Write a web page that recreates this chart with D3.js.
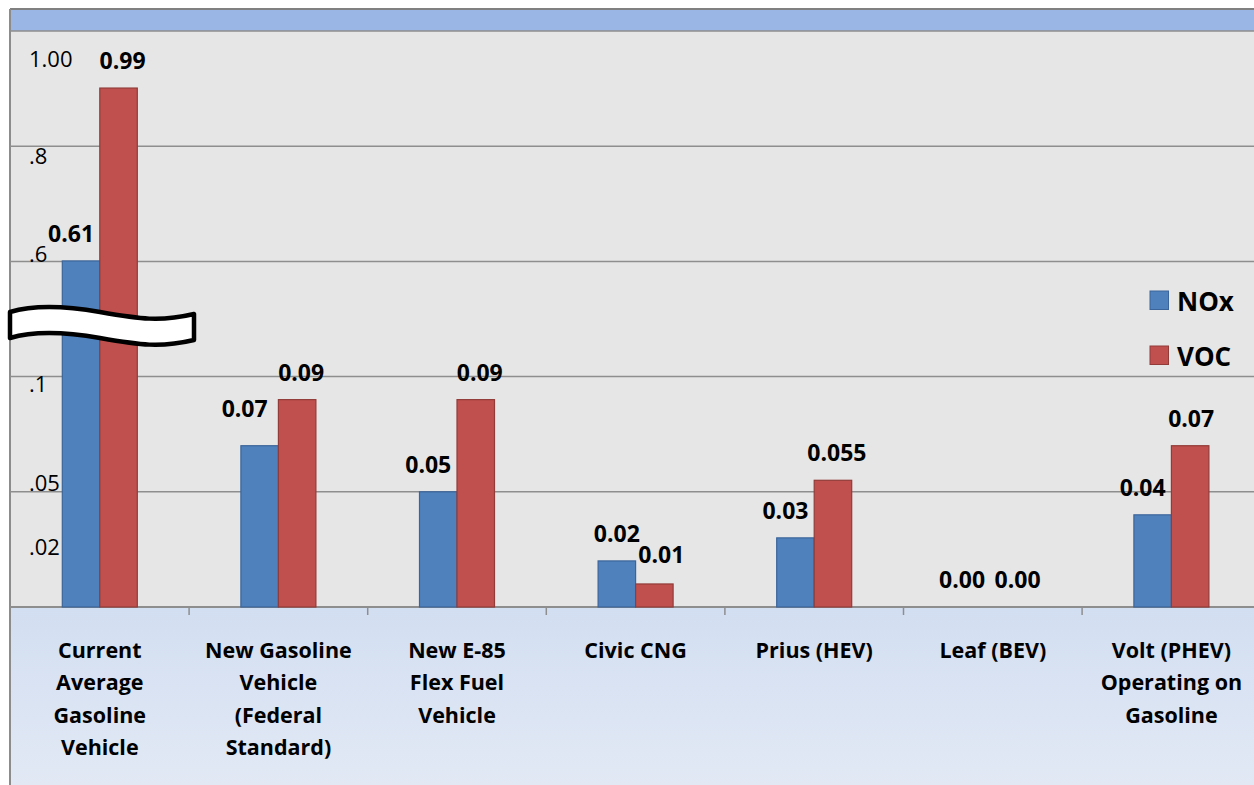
<!DOCTYPE html>
<html>
<head>
<meta charset="utf-8">
<script src="https://cdn.jsdelivr.net/npm/d3@7"></script>
<style>
  body { margin: 0; background: #fff; }
  svg { display: block; font-family: "Open Sans", Lato, sans-serif; }
</style>
</head>
<body>
<div id="chart"></div>
<script>
// Data
const categories = [
  ["Current", "Average", "Gasoline", "Vehicle"],
  ["New Gasoline", "Vehicle", "(Federal", "Standard)"],
  ["New E-85", "Flex Fuel", "Vehicle"],
  ["Civic CNG"],
  ["Prius (HEV)"],
  ["Leaf (BEV)"],
  ["Volt (PHEV)", "Operating on", "Gasoline"]
];
const seriesNames = ["NOx", "VOC"];
const noxValues = [0.61, 0.07, 0.05, 0.02, 0.03, 0.00, 0.04];
const vocValues = [0.99, 0.09, 0.09, 0.01, 0.055, 0.00, 0.07];
const valueLabels = [
  ["0.61", "0.99"], ["0.07", "0.09"], ["0.05", "0.09"], ["0.02", "0.01"],
  ["0.03", "0.055"], ["0.00", "0.00"], ["0.04", "0.07"]
];
// broken axis: tick labels as printed on the chart
const tickLabels = ["1.00", ".8", ".6", ".1", ".05", ".02"];

// Dimensions
const width = 1254;
const height = 785;
const frameLeft = 10;
const frameTop = 9;
const plotTop = 31;
const plotBottom = 607;
const band = (plotBottom - plotTop) / 5;
const catWidth = 178.6;

const colors = { NOx: "#4F81BD", VOC: "#C0504D" };
const strokes = { NOx: "#3B649A", VOC: "#923B39" };

const keys = categories.map((c, i) => i);
const rows = keys.map(i => ({ i, NOx: noxValues[i], VOC: vocValues[i] }));

const x = d3.scaleBand()
  .domain(keys)
  .range([frameLeft + 0.5, frameLeft + 0.5 + catWidth * keys.length]);

const xInner = d3.scaleBand()
  .domain(seriesNames)
  .range([0, 75]);

// piecewise scale: lower part is linear, upper part above the break is compressed
const y = d3.scaleLinear()
  .domain([0, 0.1, 0.6, 1.0])
  .range([plotBottom, plotBottom - 2 * band, 265.5, 83.5]);

const svg = d3.select("#chart")
  .append("svg")
    .attr("width", width)
    .attr("height", height)
    .attr("viewBox", `0 0 ${width} ${height}`);

const defs = svg.append("defs");
const grad = defs.append("linearGradient")
  .attr("id", "catBg")
  .attr("x1", 0).attr("y1", 0).attr("x2", 0).attr("y2", 1);
grad.append("stop").attr("offset", "0%").attr("stop-color", "#D2DEF1");
grad.append("stop").attr("offset", "100%").attr("stop-color", "#E2E9F5");

// header band
svg.append("rect")
  .attr("x", frameLeft)
  .attr("y", frameTop)
  .attr("width", width - frameLeft)
  .attr("height", plotTop - frameTop)
  .attr("fill", "#9AB6E4");

// plot background
svg.append("rect")
  .attr("x", frameLeft)
  .attr("y", plotTop)
  .attr("width", width - frameLeft)
  .attr("height", plotBottom - plotTop)
  .attr("fill", "#E6E6E6");

// category area
svg.append("rect")
  .attr("x", frameLeft)
  .attr("y", plotBottom)
  .attr("width", width - frameLeft)
  .attr("height", height - plotBottom)
  .attr("fill", "url(#catBg)");

// frame lines
svg.append("line")
  .attr("x1", frameLeft).attr("x2", width)
  .attr("y1", frameTop).attr("y2", frameTop)
  .attr("stroke", "#808080").attr("stroke-width", 2);

svg.append("line")
  .attr("x1", frameLeft).attr("x2", frameLeft)
  .attr("y1", frameTop).attr("y2", height)
  .attr("stroke", "#8C8C8C").attr("stroke-width", 2);

// gridlines
svg.selectAll(".grid")
  .data(d3.range(6))
  .join("line")
    .attr("class", "grid")
    .attr("x1", frameLeft).attr("x2", width)
    .attr("y1", i => plotBottom - i * band)
    .attr("y2", i => plotBottom - i * band)
    .attr("stroke", "#8E8E8E")
    .attr("stroke-width", i => i === 0 ? 2 : 1.5);

// category ticks
svg.selectAll(".cat-tick")
  .data(keys.slice(1))
  .join("line")
    .attr("class", "cat-tick")
    .attr("x1", d => x(d)).attr("x2", d => x(d))
    .attr("y1", plotBottom).attr("y2", plotBottom + 8)
    .attr("stroke", "#8E8E8E")
    .attr("stroke-width", 1.5);

// tick labels (placed like the text boxes on the original)
const tickLabelY = [67, 164, 262, 392, 491, 555];
svg.selectAll(".tick-label")
  .data(tickLabels)
  .join("text")
    .attr("class", "tick-label")
    .attr("x", 29)
    .attr("y", (d, i) => tickLabelY[i])
    .style("font-size", "22px")
    .attr("fill", "#000")
    .text(d => d);

// bars
const groups = svg.selectAll(".group")
  .data(rows)
  .join("g")
    .attr("class", "group")
    .attr("transform", d => `translate(${x(d.i) + (x.bandwidth() - 75) / 2}, 0)`);

groups.selectAll("rect")
  .data(d => seriesNames.map(k => ({ key: k, value: d[k], i: d.i })))
  .join("rect")
    .attr("x", d => xInner(d.key))
    .attr("y", d => y(d.value))
    .attr("width", xInner.bandwidth())
    .attr("height", d => plotBottom - y(d.value))
    .attr("fill", d => colors[d.key])
    .attr("stroke", d => strokes[d.key])
    .attr("stroke-width", 1.2);

// value labels, nudged like the hand-placed labels of the original
const labelDx = { NOx: -10, VOC: 4 };
const labelFix = { "1|NOx": [-15, -10], "3|NOx": [0, 0], "3|VOC": [7, -2], "6|VOC": [1, 0], "5|NOx": [-12, 0], "5|VOC": [6, 0] };

groups.selectAll(".value-label")
  .data(d => seriesNames.map((k, j) => ({ key: k, value: d[k], i: d.i, label: valueLabels[d.i][j] })))
  .join("text")
    .attr("class", "value-label")
    .attr("text-anchor", "middle")
    .attr("x", d => {
      const fix = labelFix[`${d.i}|${d.key}`];
      return xInner(d.key) + xInner.bandwidth() / 2 + (fix ? fix[0] : labelDx[d.key]);
    })
    .attr("y", d => {
      const fix = labelFix[`${d.i}|${d.key}`];
      return y(d.value) - 19 + (fix ? fix[1] : 0);
    })
    .style("font-size", "23px")
    .style("font-weight", 700)
    .text(d => d.label);

// axis break symbol
svg.append("path")
  .attr("d", "M10,312 C30,306 60,305 100,312 C140,319 160,322 194,314 L194,340 C160,348 140,345 100,338 C60,331 30,332 10,338 Z")
  .attr("fill", "#fff")
  .attr("stroke", "#000")
  .attr("stroke-width", 4.5)
  .attr("stroke-linejoin", "round");

// category labels
svg.selectAll(".cat-label")
  .data(rows)
  .join("text")
    .attr("class", "cat-label")
    .attr("text-anchor", "middle")
    .attr("x", d => x(d.i) + x.bandwidth() / 2)
    .attr("y", 658)
    .style("font-size", "21.5px")
    .style("font-weight", 700)
    .selectAll("tspan")
    .data(d => categories[d.i])
    .join("tspan")
      .attr("x", function() { return this.parentNode.getAttribute("x"); })
      .attr("dy", (d, j) => j === 0 ? 0 : 32.4)
      .text(d => d);

// legend
const legend = svg.selectAll(".legend-item")
  .data(seriesNames)
  .join("g")
    .attr("class", "legend-item")
    .attr("transform", (d, i) => `translate(1150, ${291 + i * 55})`);

legend.append("rect")
  .attr("width", 18.5)
  .attr("height", 18.5)
  .attr("fill", d => colors[d])
  .attr("stroke", d => strokes[d])
  .attr("stroke-width", 1);

legend.append("text")
  .attr("x", 27)
  .attr("y", 19.5)
  .style("font-size", "26px")
  .style("font-weight", 700)
  .text(d => d);
</script>
</body>
</html>
